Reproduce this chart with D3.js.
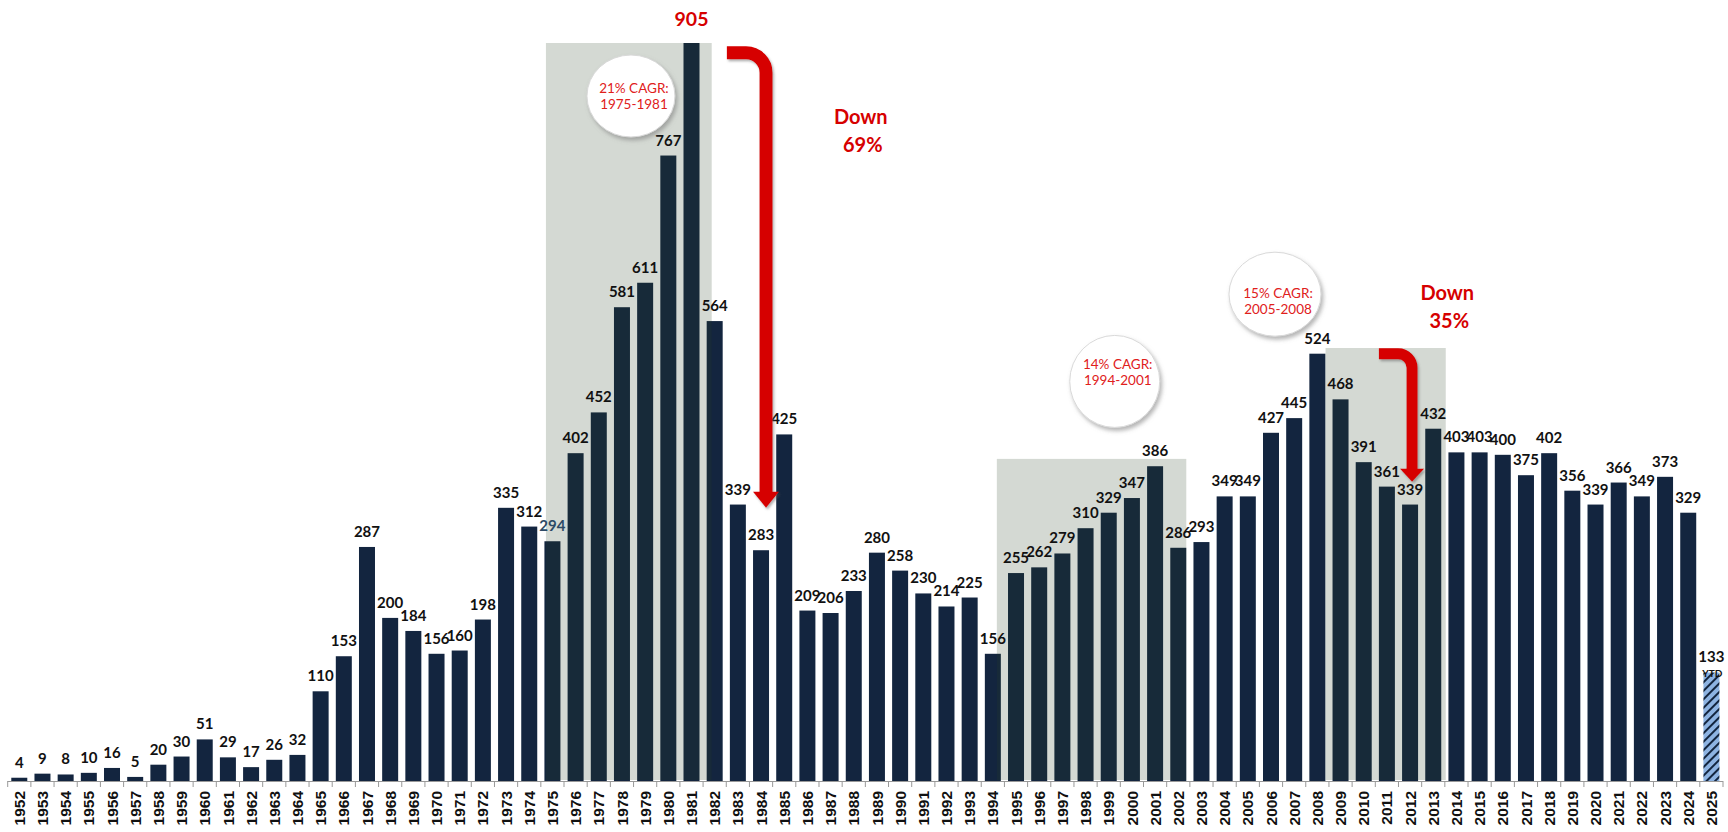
<!DOCTYPE html>
<html>
<head>
<meta charset="utf-8">
<script src="https://cdn.jsdelivr.net/npm/d3@7"></script>
<style>
  body { margin: 0; background: #fff; }
  svg { display: block; font-family: Lato, "Open Sans", sans-serif; }
  .axisClass text { font-size: 15.5px; font-weight: 700; fill: #111; }
  .axisClass line, .axisClass path { stroke: #999; }
</style>
</head>
<body>
<div id="chart"></div>
<script>

// values
const years = d3.range(1952, 2026)
const counts = [4, 9, 8, 10, 16, 5, 20, 30, 51, 29, 17, 26, 32, 110, 153, 287, 200, 184, 156, 160,
  198, 335, 312, 294, 402, 452, 581, 611, 767, 905, 564, 339, 283, 425, 209, 206, 233, 280, 258, 230,
  214, 225, 156, 255, 262, 279, 310, 329, 347, 386, 286, 293, 349, 349, 427, 445, 524, 468, 391, 361,
  339, 432, 403, 403, 400, 375, 402, 356, 339, 366, 349, 373, 329, 133]

// shaded growth windows: first year, last year, value at top of box
const boxFrom = [1975, 1994, 2009]
const boxTo = [1982, 2002, 2013]
const boxTop = [905, 395, 531]

// CAGR bubbles
const cagrText = [["21% CAGR:", "1975-1981"], ["14% CAGR:", "1994-2001"], ["15% CAGR:", "2005-2008"]]
const cagrYear = [1978, 1999, 2006]
const cagrValue = [840, 490, 597]

// drawdown arrows
const dropFrom = [1983, 2011]
const dropTo = [1984, 2012]
const dropTopValue = [893, 524]
const dropTipValue = [335, 367]
const dropText = [["Down", "69%"], ["Down", "35%"]]
const dropTextYear = [1988, 2013]
const dropTextValue = [806, 590]

const config = { width: 1728, height: 832, left: 7.7, right: 1723, base: 781, top: 43 }

const navy = "#13253f"
const red = "#d60000"

const svg = d3.select('#chart').append('svg')
  .attr("width", config.width).attr("height", config.height)

const defs = svg.append('defs')

const hatch = defs.append('pattern')
  .attr("id", "hatch").attr("patternUnits", "userSpaceOnUse")
  .attr("width", 6).attr("height", 6)
  .attr("patternTransform", "rotate(45)")
hatch.append('rect').attr("width", 6).attr("height", 6).attr("fill", "#8db3e2")
hatch.append('rect').attr("width", 2).attr("height", 6).attr("fill", navy)

const shadow = defs.append('filter').attr("id", "shadow")
  .attr("x", "-30%").attr("y", "-30%").attr("width", "160%").attr("height", "160%")
shadow.append('feDropShadow').attr("dx", 2).attr("dy", 3).attr("stdDeviation", 2)
  .attr("flood-color", "#777").attr("flood-opacity", 0.55)

const arrowShadow = defs.append('filter').attr("id", "arrowShadow")
  .attr("x", "-30%").attr("y", "-10%").attr("width", "160%").attr("height", "120%")
arrowShadow.append('feDropShadow').attr("dx", 1.5).attr("dy", 2).attr("stdDeviation", 1.2)
  .attr("flood-color", "#555").attr("flood-opacity", 0.45)

const x = d3.scaleBand().domain(years).range([config.left, config.right])
  .paddingInner(0.31).paddingOuter(0.155)
const y = d3.scaleLinear().domain([0, 905]).range([config.base, config.top])
const xc = yr => x(yr) + x.bandwidth() / 2

const data = years.map((yr, i) => ({ year: yr, value: counts[i] }))

// bars
svg.append('g').selectAll('rect')
  .data(data)
  .enter()
  .append('rect')
  .attr("x", d => x(d.year))
  .attr("y", d => y(d.value))
  .attr("width", x.bandwidth())
  .attr("height", d => y(0) - y(d.value))
  .attr("fill", d => d.year == 2025 ? "url(#hatch)" : navy)

// shaded boxes sit over the bars
const boxPad = [[1.5, 5], [12, 16], [-7, 20.5]]
boxFrom.forEach(function (from, i) {
  const x0 = x(from) + boxPad[i][0]
  const x1 = x(boxTo[i]) + boxPad[i][1]
  svg.append('rect')
    .attr("x", x0)
    .attr("y", y(boxTop[i]))
    .attr("width", x1 - x0)
    .attr("height", y(0) - y(boxTop[i]) - 1)
    .attr("fill", "rgb(40,65,35)")
    .attr("opacity", 0.2)
})

// x axis, ticks between the bars
const axisBottom = d3.axisBottom(x).tickSize(6).tickSizeOuter(0)
const axisG = svg.append('g')
  .attr("transform", `translate(0,${config.base})`)
  .attr('class', "axisClass")
  .call(axisBottom)
axisG.select(".domain").attr("d", `M${config.left},0.5H${config.right}`)
axisG.selectAll('.tick line').attr("transform", `translate(${-x.step() / 2},0)`)
axisG.append('line')
  .attr("x1", config.right).attr("x2", config.right)
  .attr("y1", 0).attr("y2", 6)
axisG.selectAll('.tick text')
  .attr("transform", "rotate(-90)")
  .attr("text-anchor", "end")
  .attr("x", -10)
  .attr("y", 0)
  .attr("dy", "0.36em")

// value labels
svg.append('g').selectAll('text')
  .data(data.filter(d => d.year != 1981))
  .enter()
  .append('text')
  .attr("x", d => xc(d.year))
  .attr("y", d => y(d.value) - (d.year == 2025 ? 11 : 10))
  .attr("text-anchor", "middle")
  .attr("font-size", "15px")
  .attr("font-weight", 700)
  .attr("fill", d => d.year == 1975 ? "#2c4a66" : "#111")
  .text(d => d.value)

svg.append('text')
  .attr("x", xc(2025) + 1)
  .attr("y", y(133) + 4)
  .attr("text-anchor", "middle")
  .attr("font-size", "10px")
  .attr("font-weight", 700)
  .attr("fill", "#111")
  .text("YTD")

svg.append('text')
  .attr("x", xc(1981))
  .attr("y", y(905) - 17)
  .attr("text-anchor", "middle")
  .attr("font-size", "19.5px")
  .attr("font-weight", 700)
  .attr("fill", red)
  .text("905")

// arrows
const arrowSize = [[13, 20, 13, 16, -3, 5], [11, 14, 12, 13, 0, 2]]
dropFrom.forEach(function (from, i) {
  const s = arrowSize[i]
  const x0 = x(from) + s[4]
  const xv = xc(dropTo[i]) + s[5]
  const y0 = y(dropTopValue[i])
  const tip = y(dropTipValue[i])
  const headTop = tip - s[3]
  const p = d3.path()
  p.moveTo(x0, y0)
  p.lineTo(xv - s[1], y0)
  p.arcTo(xv, y0, xv, y0 + s[1], s[1])
  p.lineTo(xv, headTop + 1)
  const g = svg.append('g').attr("filter", "url(#arrowShadow)")
  g.append('path')
    .attr("d", p.toString())
    .attr("fill", "none")
    .attr("stroke", red)
    .attr("stroke-width", s[0])
  g.append('path')
    .attr("d", `M${xv - s[2]},${headTop}L${xv + s[2]},${headTop}L${xv},${tip}Z`)
    .attr("fill", red)

  const t = svg.append('text')
    .attr("text-anchor", "middle")
    .attr("font-size", "20px")
    .attr("font-weight", 700)
    .attr("fill", red)
  dropText[i].forEach(function (line, j) {
    t.append('tspan')
      .attr("x", xc(dropTextYear[i]) + (i == 0 ? 7 : 14) + j * 2)
      .attr("y", y(dropTextValue[i]) + j * 28)
      .text(line)
  })
})

// CAGR bubbles
const bubbleR = [[44, 41, -3], [45, 46, -12], [46, 42, 4]]
cagrYear.forEach(function (yr, i) {
  const cx = xc(yr) + [9, 6, 4][i]
  const cy = y(cagrValue[i])
  svg.append('ellipse')
    .attr("cx", cx).attr("cy", cy)
    .attr("rx", bubbleR[i][0]).attr("ry", bubbleR[i][1])
    .attr("fill", "#fff")
    .attr("stroke", "#d9d9d9")
    .attr("stroke-width", 1)
    .attr("filter", "url(#shadow)")
  const t = svg.append('text')
    .attr("text-anchor", "middle")
    .attr("font-size", "13.5px")
    .attr("fill", "#e0201b")
  cagrText[i].forEach(function (line, j) {
    t.append('tspan')
      .attr("x", cx + 3)
      .attr("y", cy + bubbleR[i][2] + j * 16)
      .text(line)
  })
})

</script>
</body>
</html>
